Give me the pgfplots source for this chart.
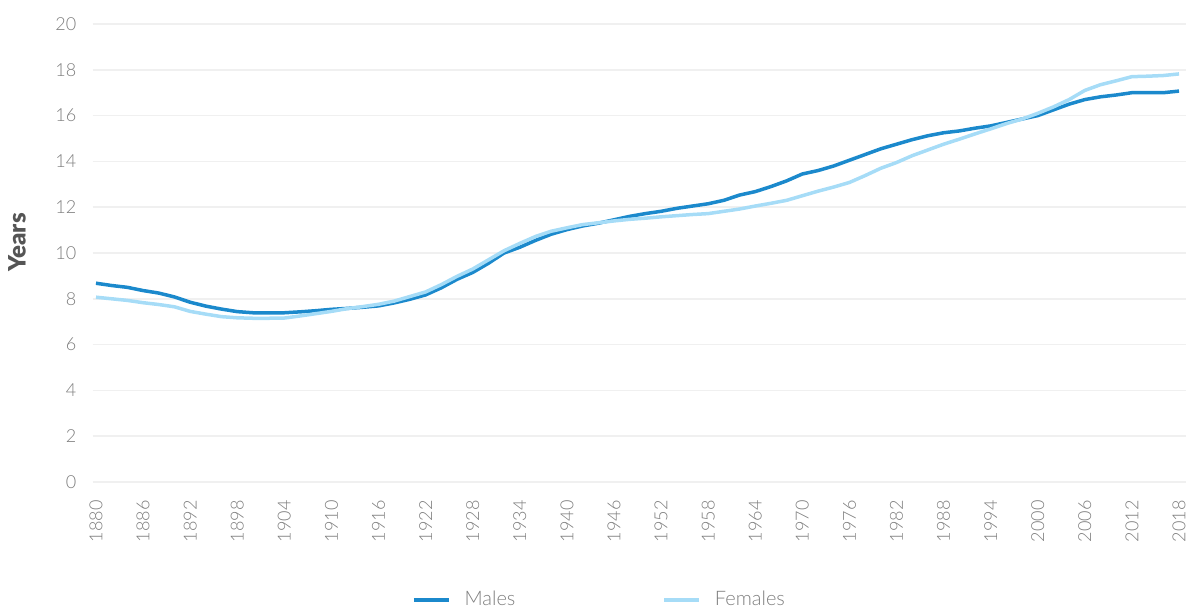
\documentclass[border=0pt]{standalone}
\usepackage{fontspec}
\setmainfont{Lato}[UprightFont={* Light}, BoldFont={* Black}]
\usepackage{pgfplots}
\pgfplotsset{compat=1.18}
\definecolor{males}{RGB}{27,137,204}
\definecolor{females}{RGB}{166,220,247}
\definecolor{ticktext}{RGB}{125,125,125}
\definecolor{gridc}{RGB}{240,240,240}
\definecolor{labeltext}{RGB}{85,85,85}
\begin{document}
\begin{tikzpicture}
\useasboundingbox (0,0) rectangle (593pt,305pt);
\begin{axis}[
  at={(46.35pt,64pt)}, anchor=south west,
  scale only axis, width=546.65pt, height=229pt,
  xmin=1879.58, xmax=2018.89, ymin=0, ymax=20,
  xtick={1880,1886,...,2018},
  ytick={0,2,...,20},
  axis line style={draw=none},
  major tick length=0pt,
  ymajorgrids, grid style={gridc, line width=0.75pt},
  /pgf/number format/assume math mode=true,
  /pgf/number format/set thousands separator={},
  tick label style={font=\fontsize{9}{11}\selectfont, text=ticktext, inner sep=0pt},
  xticklabel style={rotate=90, anchor=east},
  xticklabel shift=9pt,
  yticklabel shift=8pt,
  legend style={draw=none, fill=none, legend columns=2,
    at={(rel axis cs:0.4645,-0.2576)}, anchor=center,
    font=\fontsize{10}{12}\selectfont, text=ticktext,
    /tikz/every odd column/.append style={column sep=5pt},
    /tikz/every even column/.append style={column sep=71.5pt}},
  legend image code/.code={\draw[#1] (0pt,0pt) -- (17.5pt,0pt);},
]
\addplot[males, line width=1.75pt, line join=round] coordinates {
(1880,8.68)(1882,8.58)(1884,8.50)(1886,8.36)(1888,8.25)(1890,8.08)(1892,7.85)(1894,7.68)
(1896,7.55)(1898,7.44)(1900,7.39)(1902,7.38)(1904,7.39)(1906,7.43)(1908,7.48)(1910,7.54)
(1912,7.58)(1914,7.63)(1916,7.69)(1918,7.82)(1920,7.98)(1922,8.17)(1924,8.48)(1926,8.85)
(1928,9.15)(1930,9.55)(1932,10.00)(1934,10.25)(1936,10.55)(1938,10.82)(1940,11.02)(1942,11.18)
(1944,11.30)(1946,11.45)(1948,11.60)(1950,11.72)(1952,11.82)(1954,11.95)(1956,12.05)(1958,12.15)
(1960,12.30)(1962,12.53)(1964,12.68)(1966,12.90)(1968,13.15)(1970,13.45)(1972,13.60)(1974,13.80)
(1976,14.05)(1978,14.30)(1980,14.55)(1982,14.75)(1984,14.95)(1986,15.12)(1988,15.25)(1990,15.33)
(1992,15.45)(1994,15.55)(1996,15.70)(1998,15.85)(2000,16.00)(2002,16.25)(2004,16.50)(2006,16.70)
(2008,16.82)(2010,16.90)(2012,17.00)(2014,17.00)(2016,17.00)(2018,17.07)
};
\addlegendentry{Males}
\addplot[females, line width=1.75pt, line join=round] coordinates {
(1880,8.07)(1882,8.00)(1884,7.93)(1886,7.83)(1888,7.75)(1890,7.65)(1892,7.45)(1894,7.33)
(1896,7.22)(1898,7.17)(1900,7.15)(1902,7.15)(1904,7.16)(1906,7.25)(1908,7.35)(1910,7.45)
(1912,7.57)(1914,7.66)(1916,7.76)(1918,7.90)(1920,8.10)(1922,8.30)(1924,8.62)(1926,8.98)
(1928,9.30)(1930,9.70)(1932,10.10)(1934,10.42)(1936,10.72)(1938,10.95)(1940,11.10)(1942,11.24)
(1944,11.32)(1946,11.40)(1948,11.47)(1950,11.52)(1952,11.58)(1954,11.63)(1956,11.68)(1958,11.72)
(1960,11.82)(1962,11.92)(1964,12.05)(1966,12.17)(1968,12.30)(1970,12.50)(1972,12.70)(1974,12.88)
(1976,13.08)(1978,13.38)(1980,13.70)(1982,13.95)(1984,14.25)(1986,14.50)(1988,14.75)(1990,14.97)
(1992,15.20)(1994,15.42)(1996,15.65)(1998,15.85)(2000,16.10)(2002,16.38)(2004,16.70)(2006,17.10)
(2008,17.35)(2010,17.52)(2012,17.70)(2014,17.72)(2016,17.75)(2018,17.82)
};
\addlegendentry{Females}
\end{axis}
\node[rotate=90, font=\bfseries\fontsize{12}{14}\selectfont, text=labeltext] at (8.5pt,183.75pt) {Years};
\end{tikzpicture}
\end{document}
